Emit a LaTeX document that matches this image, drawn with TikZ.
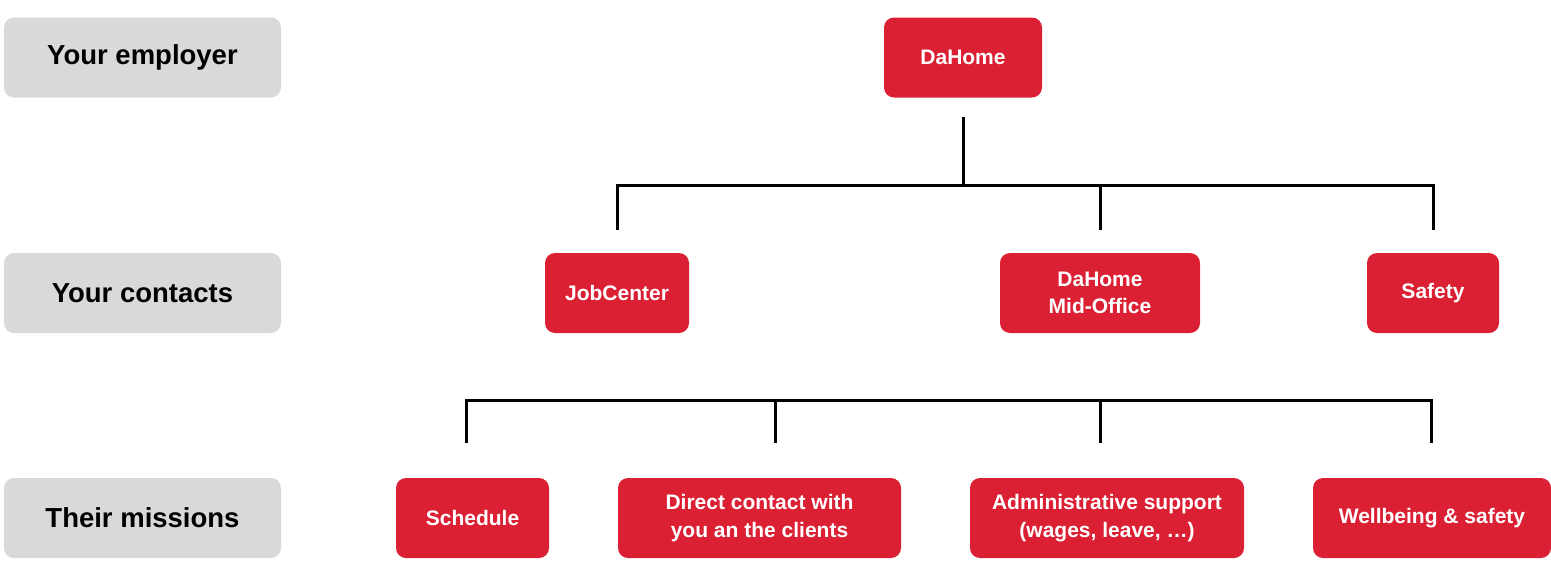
\documentclass[tikz,border=0pt]{standalone}
\usepackage{fontspec}
\setmainfont{Liberation Sans}
\usepackage{tikz}
\usetikzlibrary{calc}

\definecolor{dared}{HTML}{DC2034}
\definecolor{lightgrey}{HTML}{D9D9D9}

\tikzset{
  role/.style={fill=lightgrey, rounded corners=10pt, minimum width=277pt, minimum height=80pt,
    inner sep=0pt, font=\bfseries\fontsize{27.5}{30}\selectfont},
  unit/.style={fill=dared, text=white, rounded corners=10pt, minimum height=80pt, inner sep=0pt,
    align=center, font=\bfseries\fontsize{21}{27.5}\selectfont},
  link/.style={line width=3pt, black}
}

\begin{document}
\begin{tikzpicture}[x=1pt, y=-1pt]
  \useasboundingbox (0,0) rectangle (1551,563);

  % left column
  \node[role] (employer) at (142.5,57.5) {Your employer};
  \node[role] (contacts) at (142.5,293) {Your contacts};
  \node[role] (missions) at (142.5,518) {Their missions};

  % employer and contacts
  \node[unit, minimum width=158pt] (dahome) at (963,57.5) {DaHome};
  \node[unit, minimum width=144pt] (jobcenter) at (617,293) {JobCenter};
  \node[unit, minimum width=200pt] (midoffice) at (1100,293) {DaHome\\Mid-Office};
  \node[unit, minimum width=132pt] (safety) at (1433,293) {Safety\vphantom{b}};

  % missions
  \node[unit, minimum width=153pt] (schedule) at (472.5,518) {Schedule};
  \node[unit, minimum width=283pt] (direct) at (759.5,518) {Direct contact with\\you an the clients};
  \node[unit, minimum width=274pt] (admin) at (1107,518) {Administrative support\\(wages, leave, …)};
  \node[unit, minimum width=238pt] (wellbeing) at (1432,518) {Wellbeing \& safety};

  \coordinate (fork) at (962,185);
  \coordinate (m1) at (466,400);
  \coordinate (m2) at (775,400);
  \coordinate (m3) at (1100,400);
  \coordinate (m4) at (1431,400);

  \draw[link, shorten <=19pt] (dahome.south) -- (dahome |- fork);
  \draw[link, shorten <=23pt, shorten >=23pt]
    (jobcenter.north) -- (jobcenter |- fork) -- (safety |- fork) -- (safety.north);
  \draw[link, shorten <=23pt] (midoffice.north) -- (midoffice |- fork);

  \draw[link, shorten <=35pt, shorten >=35pt]
    (m1 |- schedule.north) -- (m1) -- (m4) -- (m4 |- wellbeing.north);
  \draw[link, shorten <=35pt] (m2 |- direct.north) -- (m2);
  \draw[link, shorten <=35pt] (m3 |- admin.north) -- (m3);
\end{tikzpicture}
\end{document}
